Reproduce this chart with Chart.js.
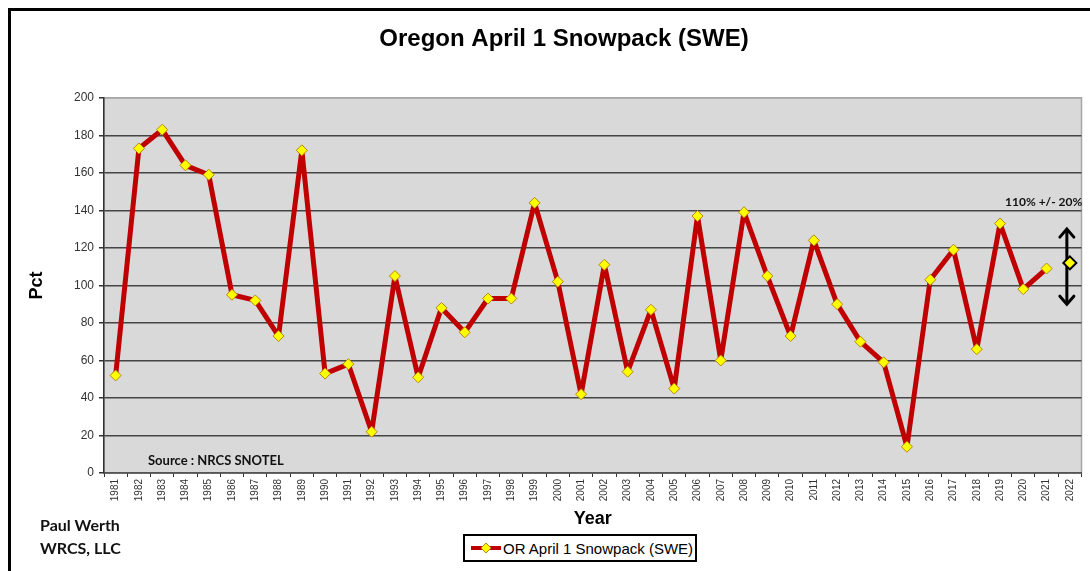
<!DOCTYPE html>
<html>
<head>
<meta charset="utf-8">
<title>Oregon April 1 Snowpack (SWE)</title>
<script src="https://cdn.jsdelivr.net/npm/chart.js@4.4.1/dist/chart.umd.min.js"></script>
<style>
  body { margin: 0; background: #fff; }
  #wrap { position: relative; width: 1090px; height: 571px; overflow: hidden; background: #fff; }
  #frame { position: absolute; left: 8px; top: 8px; width: 1200px; height: 700px;
           border-left: 3px solid #000; border-top: 3px solid #000; }
  #chart { position: absolute; left: 0; top: 0; }
  .note { position: absolute; font-family: Lato, "Open Sans", sans-serif; font-weight: bold;
          color: #111; white-space: nowrap; line-height: 18px; }
  #legend { position: absolute; left: 463px; top: 534px; width: 234px; height: 28px; box-sizing: border-box;
            border: 2px solid #000; background: #fff; display: flex; align-items: center; padding-left: 5px;
            font-family: "Liberation Sans", Arial, sans-serif; font-size: 15px; color: #000; }
  #legend svg { margin-right: 1px; }
</style>
</head>
<body>
<div id="wrap">
  <div id="frame"></div>
  <canvas id="chart" width="1090" height="571"></canvas>
  <div class="note" style="left:148px; top:451px; font-size:13px;">Source : NRCS SNOTEL</div>
  <div class="note" style="left:1005px; top:193px; font-size:12px;">110% +/- 20%</div>
  <div class="note" style="left:40px; top:516px; font-size:16px;">Paul Werth</div>
  <div class="note" style="left:40px; top:539px; font-size:16px;">WRCS, LLC</div>
  <div id="legend">
    <svg width="32" height="14">
      <line x1="1" y1="7" x2="31" y2="7" stroke="#c00000" stroke-width="4"/>
      <polygon points="16,2 21,7 16,12 11,7" fill="#ffff00" stroke="#b8860b" stroke-width="1"/>
    </svg>
    <span>OR April 1 Snowpack (SWE)</span>
  </div>
</div>
<script>
// Data
const years = ['1981', '1982', '1983', '1984', '1985', '1986', '1987', '1988', '1989', '1990',
               '1991', '1992', '1993', '1994', '1995', '1996', '1997', '1998', '1999', '2000',
               '2001', '2002', '2003', '2004', '2005', '2006', '2007', '2008', '2009', '2010',
               '2011', '2012', '2013', '2014', '2015', '2016', '2017', '2018', '2019', '2020',
               '2021', '2022'];
const snowpack = [52, 173, 183, 164, 159, 95, 92, 73, 172, 53,
                  58, 22, 105, 51, 88, 75, 93, 93, 144, 102,
                  42, 111, 54, 87, 45, 137, 60, 139, 105, 73,
                  124, 90, 70, 59, 14, 103, 119, 66, 133, 98,
                  109, null];
const forecastYear = '2022';
const forecastValue = 112;
const forecastRange = [90, 130];
const yMin = 0;
const yMax = 200;
const yStep = 20;

const lineRed = '#c00000';
const markerYellow = '#ffff00';
const axisFont = 'Liberation Sans, Arial, sans-serif';

// grey plot area behind the grid
const plotBackground = {
    id: 'plotBackground',
    beforeDraw(chart) {
        const { ctx, chartArea: a } = chart;
        ctx.save();
        ctx.fillStyle = '#d9d9d9';
        ctx.fillRect(a.left, a.top, a.width, a.height);
        ctx.strokeStyle = '#a6a6a6';
        ctx.lineWidth = 1.5;
        ctx.strokeRect(a.left, a.top, a.width, a.height);
        ctx.restore();
    }
};

// double headed arrow for the forecast range
const rangeArrow = {
    id: 'rangeArrow',
    beforeDatasetsDraw(chart) {
        const { ctx, scales } = chart;
        const x = scales.x.getPixelForValue(years.indexOf(forecastYear)) - 3;
        const yTop = scales.y.getPixelForValue(forecastRange[1]);
        const yBot = scales.y.getPixelForValue(forecastRange[0]);
        ctx.save();
        ctx.strokeStyle = '#000';
        ctx.lineWidth = 3;
        ctx.lineCap = 'round';
        ctx.beginPath();
        ctx.moveTo(x, yTop + 1);
        ctx.lineTo(x, yBot - 1);
        ctx.stroke();
        ctx.beginPath();
        ctx.moveTo(x - 7, yTop + 8);
        ctx.lineTo(x, yTop);
        ctx.lineTo(x + 7, yTop + 8);
        ctx.moveTo(x - 7, yBot - 8);
        ctx.lineTo(x, yBot);
        ctx.lineTo(x + 7, yBot - 8);
        ctx.stroke();
        ctx.restore();
    }
};

const ctx = document.getElementById('chart').getContext('2d');
const chart = new Chart(ctx, {
    type: 'line',
    data: {
        labels: years,
        datasets: [{
            label: 'OR April 1 Snowpack (SWE)',
            data: snowpack,
            borderColor: lineRed,
            borderWidth: 5,
            borderJoinStyle: 'round',
            borderCapStyle: 'round',
            tension: 0,
            pointStyle: 'rectRot',
            pointRadius: 5.5,
            pointBackgroundColor: markerYellow,
            pointBorderColor: '#b8860b',
            pointBorderWidth: 1
        }, {
            label: 'Forecast',
            data: years.map(y => y === forecastYear ? forecastValue : null),
            showLine: false,
            pointStyle: 'rectRot',
            pointRadius: 6.5,
            pointBackgroundColor: markerYellow,
            pointBorderColor: '#000',
            pointBorderWidth: 2
        }]
    },
    options: {
        responsive: false,
        animation: false,
        layout: {
            padding: { left: 43, right: 5, top: 0, bottom: 0 }
        },
        scales: {
            x: {
                offset: true,
                ticks: {
                    autoSkip: false,
                    maxRotation: 90,
                    minRotation: 90,
                    padding: 2,
                    color: '#333',
                    font: { family: axisFont, size: 10 }
                },
                grid: {
                    offset: true,
                    drawOnChartArea: false,
                    tickLength: 4,
                    tickColor: '#333',
                    lineWidth: 1
                },
                border: { color: '#555', width: 1.5 },
                title: {
                    display: true,
                    text: 'Year',
                    color: '#000',
                    font: { family: axisFont, size: 18, weight: 'bold' },
                    padding: { top: 0, bottom: 41 }
                },
                afterFit(scale) {
                    scale.height = 98;
                    scale.paddingLeft = 0;
                    scale.paddingRight = 0;
                }
            },
            y: {
                min: yMin,
                max: yMax,
                ticks: {
                    stepSize: yStep,
                    padding: 5,
                    color: '#333',
                    font: { family: axisFont, size: 12 }
                },
                grid: {
                    color: c => (c.tick && c.tick.value === yMax) ? '#a6a6a6' : '#454545',
                    lineWidth: 1.5,
                    tickLength: 5,
                    tickColor: '#333'
                },
                border: { color: '#333', width: 1.5 },
                title: {
                    display: true,
                    text: 'Pct',
                    color: '#000',
                    font: { family: axisFont, size: 18, weight: 'bold' },
                    padding: { top: -17, bottom: 0 }
                },
                afterFit(scale) { scale.width = 61; }
            }
        },
        plugins: {
            legend: { display: false },
            tooltip: { enabled: false },
            title: {
                display: true,
                text: 'Oregon April 1 Snowpack (SWE)',
                color: '#000',
                font: { family: axisFont, size: 24, weight: 'bold' },
                padding: { top: 25, bottom: 44 }
            }
        }
    },
    plugins: [plotBackground, rangeArrow]
});
</script>
</body>
</html>
